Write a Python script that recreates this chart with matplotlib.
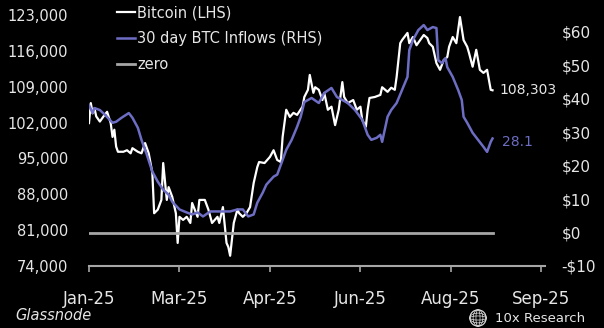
import matplotlib
matplotlib.use("Agg")
import matplotlib.pyplot as plt
import pandas as pd
from matplotlib.patches import Circle, Ellipse

# series start date, x values are days after it
start = pd.Timestamp("2025-01-20")

btc_days = [0, 1, 2, 3, 4, 6, 8, 10, 12, 13, 14, 15, 16, 19, 21, 23, 24, 27, 29, 31,
            33, 35, 36, 38, 40, 41, 43, 44, 46, 48, 49, 50, 52, 54, 56, 57, 60, 61, 64, 66,
            68, 71, 72, 74, 76, 77, 78, 80, 82, 83, 85, 87, 89, 91, 93, 94, 97, 100, 102, 104,
            106, 107, 109, 111, 113, 115, 118, 119, 121, 122, 124, 125, 127, 129, 130, 132, 134, 136, 138, 140,
            141, 143, 146, 148, 150, 151, 153, 154, 155, 158, 161, 162, 165, 167, 169, 170, 172, 173, 176, 177,
            179, 181, 183, 185, 187, 188, 190, 192, 194, 196, 198, 199, 201, 203, 205, 207, 209, 210, 212, 214,
            216, 218, 220, 222, 223]
btc_vals = [101900, 105800, 103800, 104800, 103200, 102200, 103200, 104100, 101900, 99200,
            100600, 97300, 96300, 96300, 96600, 96000, 97000, 96300, 96000, 98000,
            96000, 92200, 84300, 85000, 86900, 94100, 86900, 89400, 87500, 84300,
            78500, 83600, 83000, 83600, 82400, 86300, 83600, 86900, 86900, 85000,
            82400, 83600, 82400, 85500, 78500, 77700, 76000, 82400, 85000, 84300,
            83600, 84300, 85500, 90200, 93300, 94300, 94100, 95300, 96600, 94700,
            94300, 99200, 104500, 103100, 103900, 103500, 105100, 107000, 108400, 111300,
            107800, 108900, 108400, 106400, 107800, 104500, 105100, 101500, 104500, 109900,
            107000, 105800, 106400, 104500, 105100, 102500, 101200, 104500, 106800, 107000,
            107400, 108900, 108000, 108800, 108400, 110900, 117500, 118100, 119500, 117500,
            118700, 117100, 118100, 119100, 118500, 117500, 116800, 113600, 112300, 114200,
            114800, 116800, 118700, 117500, 122600, 118100, 116800, 115600, 112900, 116200,
            112300, 111700, 112300, 108400, 108303]

flow_days = [0, 2, 3, 6, 9, 13, 15, 18, 22, 24, 27, 29, 32, 35, 38, 41, 44, 46, 50, 54,
             57, 60, 63, 67, 71, 74, 78, 82, 85, 88, 91, 93, 96, 98, 102, 104, 107, 109, 112, 115,
             117, 119, 123, 127, 130, 134, 137, 140, 143, 147, 151, 154, 156, 159, 161, 162, 165, 167, 170, 173,
             176, 177, 179, 182, 185, 187, 190, 192, 193, 195, 197, 198, 201, 204, 206, 207, 209, 212, 215, 218,
             220, 222, 223]
flow_vals = [38.1, 35.7, 37.2, 36.6, 35.1, 32.8, 33.1, 34.3, 35.7, 34.3, 31.3, 27.7, 23.2, 18.2, 15.2, 12.8, 11.3, 9.2, 6.9, 6.0,
             5.4, 6.0, 4.8, 6.3, 6.3, 6.3, 6.3, 6.9, 6.9, 4.8, 5.4, 8.9, 11.9, 14.3, 16.7, 17.3, 21.7, 24.7, 27.7, 31.6,
             34.6, 39.0, 40.2, 38.7, 41.7, 43.2, 40.5, 39.6, 38.7, 36.6, 33.7, 29.2, 27.7, 28.3, 29.2, 27.1, 34.6, 36.6, 38.7, 42.6,
             46.5, 54.5, 57.5, 60.5, 62.0, 60.5, 61.4, 61.1, 51.5, 50.6, 52.1, 49.4, 46.5, 42.6, 39.6, 34.6, 32.8, 29.8, 27.7, 25.6,
             24.1, 27.1, 28.1]

zero_days = [0, 223]
zero_vals = [0, 0]

tick_dates = ["2025-01-20", "2025-03-11", "2025-04-30", "2025-06-19", "2025-08-08", "2025-09-27"]
tick_labels = ["Jan-25", "Mar-25", "Apr-25", "Jun-25", "Aug-25", "Sep-25"]
left_ticks = [74000, 81000, 88000, 95000, 102000, 109000, 116000, 123000]
right_ticks = [-10, 0, 10, 20, 30, 40, 50, 60]

WHITE = "#ffffff"
BLUE = "#6d6dc4"
GREY = "#a6a6a6"
TXT = "#e6e6e6"

btc_x = start + pd.to_timedelta(btc_days, unit="D")
flow_x = start + pd.to_timedelta(flow_days, unit="D")
zero_x = start + pd.to_timedelta(zero_days, unit="D")

fig = plt.figure(figsize=(6.04, 3.28), dpi=100, facecolor="black")
ax = fig.add_axes([89 / 604, 1 - 266 / 328, (545 - 89) / 604, (266 - 15) / 328])
ax.set_facecolor("black")
ax2 = ax.twinx()

l1, = ax.plot(btc_x, btc_vals, color=WHITE, lw=1.6, label="Bitcoin (LHS)", zorder=3)
l2, = ax2.plot(flow_x, flow_vals, color=BLUE, lw=1.8, label="30 day BTC Inflows (RHS)", zorder=2)
l3, = ax2.plot(zero_x, zero_vals, color=GREY, lw=2, label="zero", zorder=1)

ax.set_xlim(start, start + pd.Timedelta(days=252))
ax.set_ylim(74000, 123000)
ax2.set_ylim(-10, 65)

ax.set_xticks(pd.to_datetime(tick_dates))
ax.set_xticklabels(tick_labels)
ax.set_yticks(left_ticks)
ax.set_yticklabels([f"{v:,}" for v in left_ticks])
ax2.set_yticks(right_ticks)
ax2.set_yticklabels([f"-${-v}" if v < 0 else f"${v}" for v in right_ticks])

for a in (ax, ax2):
    for s in a.spines.values():
        s.set_visible(False)
ax.spines["bottom"].set_visible(True)
ax.spines["bottom"].set_color(GREY)
ax.spines["bottom"].set_linewidth(1.5)

ax.tick_params(axis="x", colors=GREY, length=4, width=1.2, labelcolor=TXT, labelsize=12, pad=13)
ax.tick_params(axis="y", length=0, labelcolor=TXT, labelsize=10.5, pad=15)
ax2.tick_params(axis="y", length=0, labelcolor=TXT, labelsize=11, pad=12)

# end-point labels
ax.text(btc_x[-1] + pd.Timedelta(days=4), btc_vals[-1], f"{btc_vals[-1]:,}",
        color=TXT, fontsize=10, va="center", ha="left")
ax2.text(flow_x[-1] + pd.Timedelta(days=5), flow_vals[-1] - 1, f"{flow_vals[-1]}",
         color=BLUE, fontsize=10, va="center", ha="left")

fig.legend(handles=[l1, l2, l3], loc="upper left", bbox_to_anchor=(117 / 604, 1 - 5 / 328),
           frameon=False, fontsize=10.5, labelcolor=TXT, handlelength=1.25,
           handletextpad=0.15, labelspacing=0.75, borderpad=0, borderaxespad=0)

fig.text(15 / 604, 1 - 315 / 328, "Glassnode", style="italic", color=TXT,
         fontsize=10.5, va="center", ha="left")
fig.text(495 / 604, 1 - 318 / 328, "10x Research", color=TXT,
         fontsize=9.5, va="center", ha="left")

# small globe-like logo
lax = fig.add_axes([469 / 604, 1 - 327 / 328, 18 / 604, 18 / 328])
lax.set_xlim(-1.1, 1.1)
lax.set_ylim(-1.1, 1.1)
lax.set_aspect("equal")
lax.axis("off")
lax.add_patch(Circle((0, 0), 1, fill=False, ec=TXT, lw=0.8))
for w in (0.5, 1.2):
    lax.add_patch(Ellipse((0, 0), w, 2, fill=False, ec=TXT, lw=0.5))
    lax.add_patch(Ellipse((0, 0), 2, w, fill=False, ec=TXT, lw=0.5))

fig.savefig("out.png", dpi=100, facecolor="black")
